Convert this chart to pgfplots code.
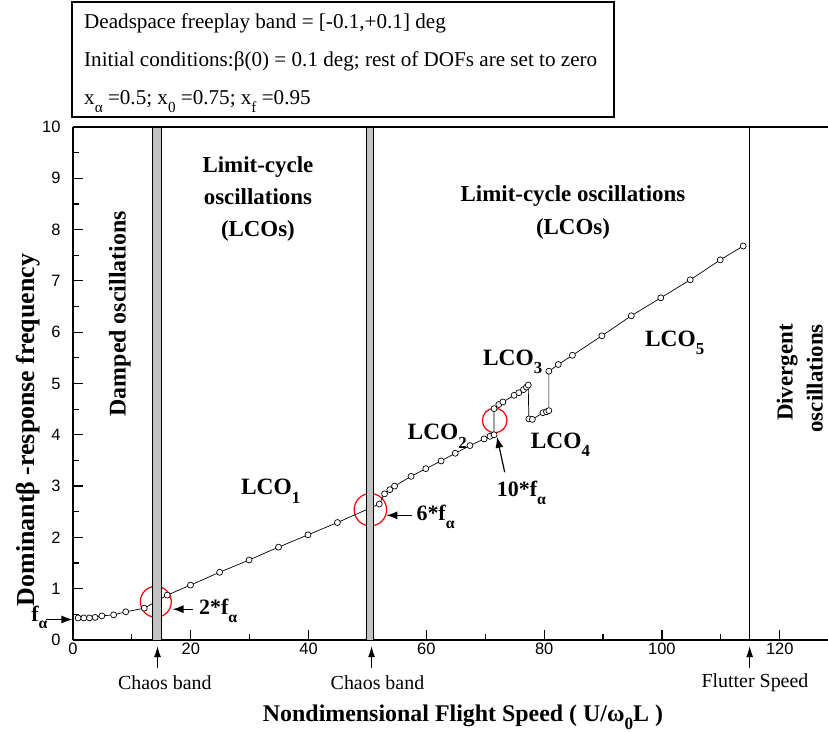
\documentclass[border=0pt]{standalone}
\usepackage{fontspec}
\setmainfont{Liberation Serif}
\newfontfamily\sansf{Liberation Sans}
\usepackage{graphicx}
\usepackage{pgfplots}
\usepackage{pgfplotstable}
\pgfplotsset{compat=1.18}
\usetikzlibrary{arrows.meta}
\newcommand\sbs[1]{\raisebox{-0.35em}{\scalebox{0.72}{#1}}}
\pgfplotstableread{
x y
0.87 0.43
1.83 0.43
2.8 0.43
3.75 0.44
4.9 0.47
6.9 0.49
8.96 0.55
12.1 0.62
16.0 0.875
19.95 1.07
24.9 1.32
29.9 1.56
34.9 1.81
39.9 2.05
44.9 2.29
52.0 2.65
52.9 2.85
53.8 2.93
54.6 3.0
57.4 3.19
59.9 3.34
62.5 3.49
64.9 3.64
67.4 3.79
69.8 3.92
70.8 3.97
71.5 4.0
71.5 4.51
72.3 4.59
73.0 4.64
74.9 4.77
75.7 4.82
76.5 4.88
77.0 4.93
77.3 4.97
77.4 4.31
78.0 4.30
79.8 4.43
80.4 4.45
80.8 4.47
80.8 5.24
82.4 5.37
84.8 5.55
89.8 5.93
94.8 6.32
99.8 6.67
104.8 7.02
109.9 7.41
113.8 7.68
}\datatable
\begin{document}
\begin{tikzpicture}
\begin{axis}[
 at={(0,0)}, anchor=south west, scale only axis, width=755bp, height=513bp,
 xmin=0, xmax=128.2, ymin=0, ymax=10,
 axis lines*=left, axis line style={-, line width=1.4bp},
 xtick={0,20,...,120}, minor xtick={10,30,...,110},
 ytick={0,1,...,10}, minor ytick={0.5,1.5,...,9.5},
 xtick pos=lower, ytick pos=left,
 tick align=inside, major tick length=10bp, minor tick length=6bp,
 tick style={black, line width=1.2bp},
 /pgf/number format/assume math mode=true,
 ticklabel style={font=\sansf\fontsize{16.5}{18}\selectfont},
 yticklabel style={xshift=-9bp},
 clip=false,
]
\draw[red, line width=1.2bp] (axis cs:14.06,0.745) circle[radius=15.5bp];
\draw[red, line width=1.2bp] (axis cs:50.5,2.54) circle[radius=16.2bp];
\draw[red, line width=1.2bp] (axis cs:71.6,4.28) circle[radius=12.3bp];
\addplot[black, line width=0.7bp, mark=*, mark size=3bp, mark options={fill=white, draw=black, line width=0.7bp}] table[x=x,y=y]{\datatable};
\draw[fill=black!24, line width=0.8bp] (axis cs:13.5,0) rectangle (axis cs:15.0,10);
\draw[fill=black!24, line width=0.8bp] (axis cs:49.8,0) rectangle (axis cs:50.95,10);
\draw[line width=0.9bp] (axis cs:114.8,0) -- (axis cs:114.8,10);
\draw[line width=1.4bp] (rel axis cs:0,1) -- (rel axis cs:1,1);
% arrows below axis
\draw[-{Latex[length=11bp,width=7bp]}, line width=1bp] (axis cs:14.35,-0.54) -- (axis cs:14.35,-0.12);
\draw[-{Latex[length=11bp,width=7bp]}, line width=1bp] (axis cs:50.7,-0.54) -- (axis cs:50.7,-0.12);
\draw[-{Latex[length=11bp,width=7bp]}, line width=1bp] (axis cs:114.9,-0.54) -- (axis cs:114.9,-0.12);
\node[font=\fontsize{20}{22}\selectfont] at (axis cs:15.6,-0.84) {Chaos band};
\node[font=\fontsize{20}{22}\selectfont] at (axis cs:51.7,-0.84) {Chaos band};
\node[font=\fontsize{20}{22}\selectfont] at (axis cs:115.8,-0.84) {Flutter Speed};
% f alpha
\draw[-{Latex[length=11bp,width=8bp]}, line width=1.2bp] (axis cs:-4.6,0.40) -- (axis cs:-0.1,0.40);
\node[anchor=base, font=\bfseries\fontsize{22}{24}\selectfont, inner sep=0pt] at (axis cs:-5.7,0.37) {f\sbs{α}};
% multiples
\draw[-{Latex[length=11bp,width=8bp]}, line width=1.2bp] (axis cs:20.3,0.6) -- (axis cs:16.9,0.6);
\node[anchor=base west, font=\bfseries\fontsize{22}{24}\selectfont, inner sep=0pt] at (axis cs:21.4,0.49) {2*f\sbs{α}};
\draw[-{Latex[length=11bp,width=8bp]}, line width=1.2bp] (axis cs:57.5,2.43) -- (axis cs:53.2,2.43);
\node[anchor=base west, font=\bfseries\fontsize{22}{24}\selectfont, inner sep=0pt] at (axis cs:58.3,2.32) {6*f\sbs{α}};
\draw[-{Latex[length=11bp,width=8bp]}, line width=1.2bp] (axis cs:73.3,3.27) -- (axis cs:72.0,3.96);
\node[anchor=base west, font=\bfseries\fontsize{22}{24}\selectfont, inner sep=0pt] at (axis cs:71.95,2.8) {10*f\sbs{α}};
% LCO labels
\node[anchor=base west, font=\bfseries\fontsize{23.5}{25}\selectfont, inner sep=0pt] at (axis cs:28.5,2.83) {LCO\sbs{1}};
\node[anchor=base west, font=\bfseries\fontsize{23.5}{25}\selectfont, inner sep=0pt] at (axis cs:56.8,3.9) {LCO\sbs{2}};
\node[anchor=base west, font=\bfseries\fontsize{23.5}{25}\selectfont, inner sep=0pt] at (axis cs:69.6,5.36) {LCO\sbs{3}};
\node[anchor=base west, font=\bfseries\fontsize{23.5}{25}\selectfont, inner sep=0pt] at (axis cs:77.7,3.73) {LCO\sbs{4}};
\node[anchor=base west, font=\bfseries\fontsize{23.5}{25}\selectfont, inner sep=0pt] at (axis cs:97.1,5.73) {LCO\sbs{5}};
% regions
\node[align=center, font=\bfseries\fontsize{23}{32}\selectfont] at (axis cs:31.4,8.6) {Limit-cycle\\oscillations\\(LCOs)};
\node[align=center, font=\bfseries\fontsize{23}{33}\selectfont] at (axis cs:84.9,8.34) {Limit-cycle oscillations\\(LCOs)};
\node[rotate=90, font=\bfseries\fontsize{24}{26}\selectfont] at (axis cs:7.95,6.36) {Damped oscillations};
\node[rotate=90, align=right, font=\bfseries\fontsize{23}{30}\selectfont] at (axis cs:123.4,5.1) {Divergent\\oscillations};
\end{axis}
% axis titles
\node[rotate=90, font=\bfseries\fontsize{26}{28}\selectfont] at (-45bp,210bp) {Dominantβ -response frequency};
\node[font=\bfseries\fontsize{24}{26}\selectfont] at (390bp,-77bp) {Nondimensional Flight Speed ( U/ω\sbs{0}L )};
% info box
\draw[line width=1.2bp] (-1bp,523bp) rectangle (541bp,638bp);
\node[anchor=base west, inner sep=0pt, font=\fontsize{21.2}{23}\selectfont] at (11bp,611bp) {Deadspace freeplay band = [-0.1,+0.1] deg};
\node[anchor=base west, inner sep=0pt, font=\fontsize{21.2}{23}\selectfont] at (11bp,573bp) {Initial conditions:β(0) = 0.1 deg; rest of DOFs are set to zero};
\node[anchor=base west, inner sep=0pt, font=\fontsize{21.2}{23}\selectfont] at (11bp,535bp) {x\sbs{α} =0.5; x\sbs{0} =0.75; x\sbs{f} =0.95};
\pgfresetboundingbox
\useasboundingbox (-73bp,-92bp) rectangle (755bp,640bp);
\end{tikzpicture}
\end{document}
